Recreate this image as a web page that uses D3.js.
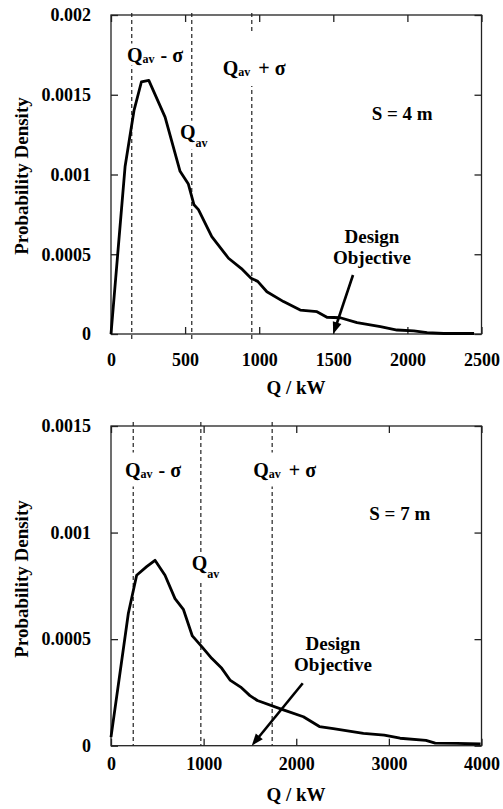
<!DOCTYPE html>
<html>
<head>
<meta charset="utf-8">
<script src="https://cdn.jsdelivr.net/npm/d3@7"></script>
<style>
  body { margin: 0; background: #fff; }
  svg { display: block; }
  svg text { font-family: "Liberation Serif", "DejaVu Serif", serif !important; font-weight: bold; }
</style>
</head>
<body>
<svg width="503" height="809"></svg>
<script>
// S = 4 m
const topQ = [0, 95, 155, 205, 255, 365, 466, 522, 560, 590, 680, 793, 880, 945, 990, 1052, 1164, 1277, 1390, 1457, 1547, 1660, 1818, 1930, 2043, 2133, 2245, 2450];
const topDensity = [0, 0.00105, 0.0014, 0.00158, 0.00159, 0.00136, 0.00102, 0.00094, 0.00081, 0.00078, 0.00061, 0.000475, 0.00041, 0.00035, 0.00033, 0.000265, 0.000203, 0.00015, 0.00014, 0.000105, 0.000102, 0.000071, 0.000046, 0.000025, 0.000019, 0.000008, 0.000003, 0.000003];
const topXTicks = [0, 500, 1000, 1500, 2000, 2500];
const topYTicks = [0, 0.0005, 0.001, 0.0015, 0.002];
const topMarkers = [140, 545, 950];          // Qav - sigma, Qav, Qav + sigma
const topArrow = [[1633, 0.00037], [1500, 0]];

// S = 7 m
const botQ = [0, 187, 277, 385, 475, 583, 691, 781, 878, 980, 1087, 1196, 1285, 1400, 1500, 1580, 1861, 2077, 2250, 2400, 2725, 2950, 3121, 3400, 3500, 3734, 3990];
const botDensity = [0.00004, 0.00062, 0.0008, 0.00084, 0.00087, 0.0008, 0.00069, 0.00064, 0.000515, 0.000465, 0.00041, 0.000363, 0.000308, 0.000275, 0.000235, 0.000212, 0.000168, 0.000136, 0.00009, 0.00008, 0.000058, 0.00005, 0.000035, 0.000025, 0.000012, 0.000011, 0.000008];
const botXTicks = [0, 1000, 2000, 3000, 4000];
const botYTicks = [0, 0.0005, 0.001, 0.0015];
const botMarkers = [240, 970, 1740];
const botArrow = [[2070, 0.000293], [1519, 0]];

const svg = d3.select("svg");
const font = '"Liberation Serif", "DejaVu Serif", serif';
const ink = "#222";
const left = 111, right = 481.5;

function styleAxis(sel, labels) {
  sel.select(".domain").remove();
  sel.attr("font-family", null);
  sel.selectAll(".tick line").attr("stroke", ink).attr("stroke-width", 1.3);
  sel.selectAll(".tick text")
    .style("font-family", font).attr("font-weight", "bold")
    .attr("font-size", 18).attr("fill", "#000");
  if (!labels) sel.selectAll(".tick text").remove();
}

function qLabel(g, lx, ly, kind, padTop, padBot) {
  const t = g.append("text").attr("x", lx).attr("y", ly)
    .style("font-family", font).attr("font-weight", "bold").attr("font-size", 20);
  t.append("tspan").text("Q");
  if (kind === "mid") {
    t.append("tspan").attr("font-size", 12).attr("dy", 8).text("av");
  } else {
    t.append("tspan").attr("font-size", 12).attr("dy", 1).text("av");
    t.append("tspan").attr("dx", kind === "minus" ? 6 : 8).attr("dy", -1).text(kind === "minus" ? "-" : "+");
    t.append("tspan").attr("dx", 5).text("σ");
  }
  const b = t.node().getBBox();
  g.insert("rect", "text")
    .attr("x", b.x - 1).attr("y", b.y - padTop)
    .attr("width", b.width + 2).attr("height", b.height + padTop + padBot)
    .attr("fill", "#fff");
}

function drawPanel(p) {
  const x = d3.scaleLinear().domain([0, p.xMax]).range([left, right]);
  const y = d3.scaleLinear().domain([0, p.yMax]).range([p.bottom, p.top]);
  const g = svg.append("g");

  g.append("rect")
    .attr("x", left).attr("y", p.top)
    .attr("width", right - left).attr("height", p.bottom - p.top)
    .attr("fill", "none").attr("stroke", ink).attr("stroke-width", 1.3);

  g.append("g").attr("transform", `translate(${left},0)`)
    .call(d3.axisLeft(y).tickValues(p.yTicks).tickSize(-7).tickSizeOuter(0).tickPadding(20).tickFormat(d => String(d)))
    .call(s => styleAxis(s, true));
  g.append("g").attr("transform", `translate(${right},0)`)
    .call(d3.axisRight(y).tickValues(p.yTicks).tickSize(-7).tickSizeOuter(0))
    .call(s => styleAxis(s, false));
  g.append("g").attr("transform", `translate(0,${p.bottom})`)
    .call(d3.axisBottom(x).tickValues(p.xTicks).tickSize(-7).tickSizeOuter(0).tickPadding(p.xPad).tickFormat(d => String(d)))
    .call(s => styleAxis(s, true));
  g.append("g").attr("transform", `translate(0,${p.top})`)
    .call(d3.axisTop(x).tickValues(p.xTicks).tickSize(-7).tickSizeOuter(0))
    .call(s => styleAxis(s, false));

  // mean and +/- sigma
  g.selectAll(".marker").data(p.markers).join("line")
    .attr("x1", d => x(d)).attr("x2", d => x(d))
    .attr("y1", p.dashTop).attr("y2", p.dashBottom)
    .attr("stroke", ink).attr("stroke-width", 1.2).attr("stroke-dasharray", "4,3");

  p.labels.forEach(l => {
    const lg = g.append("g");
    qLabel(lg, l.x, l.y, l.kind, l.padTop, l.padBot);
  });

  const line = d3.line().x(d => x(d[0])).y(d => y(d[1]));
  g.append("path")
    .datum(p.q.map((q, i) => [q, p.density[i]]))
    .attr("d", line)
    .attr("fill", "none").attr("stroke", "#000")
    .attr("stroke-width", 2.8).attr("stroke-linejoin", "round");

  // Design objective arrow
  const x0 = x(p.arrow[0][0]), y0 = y(p.arrow[0][1]);
  const x1 = x(p.arrow[1][0]), y1 = y(p.arrow[1][1]);
  const ang = Math.atan2(y1 - y0, x1 - x0);
  const hl = 12, hw = 4.5;
  g.append("line")
    .attr("x1", x0).attr("y1", y0)
    .attr("x2", x1 - Math.cos(ang) * (hl - 2)).attr("y2", y1 - Math.sin(ang) * (hl - 2))
    .attr("stroke", "#000").attr("stroke-width", 2.6);
  const bx = x1 - Math.cos(ang) * hl, by = y1 - Math.sin(ang) * hl;
  g.append("path")
    .attr("d", `M${x1},${y1}L${bx - Math.sin(ang) * hw},${by + Math.cos(ang) * hw}L${bx + Math.sin(ang) * hw},${by - Math.cos(ang) * hw}Z`)
    .attr("fill", "#000");

  const txt = (tx, ty, s, anchor) => g.append("text")
    .attr("x", tx).attr("y", ty).attr("text-anchor", anchor || "start")
    .style("font-family", font).attr("font-weight", "bold").attr("font-size", 19)
    .attr("fill", "#000").text(s);

  txt(p.sx, p.sy, p.spacing);
  txt(p.dx, p.dy, "Design", "middle");
  txt(p.dx, p.dy + 21, "Objective", "middle");
  txt(296, p.titleY, "Q / kW", "middle");

  g.append("text")
    .attr("transform", `translate(28,${p.yTitle}) rotate(-90)`)
    .attr("text-anchor", "middle")
    .style("font-family", font).attr("font-weight", "bold").attr("font-size", 19)
    .text("Probability Density");
}

drawPanel({
  top: 15, bottom: 334, xMax: 2500, yMax: 0.002,
  xTicks: topXTicks, yTicks: topYTicks, xPad: 19,
  q: topQ, density: topDensity, markers: topMarkers, arrow: topArrow,
  dashTop: 13, dashBottom: 340,
  labels: [
    { x: 127, y: 61.5, kind: "minus", padTop: 0, padBot: 0 },
    { x: 180, y: 138.7, kind: "mid", padTop: 0, padBot: 0 },
    { x: 222.7, y: 75, kind: "plus", padTop: 24, padBot: 7 }
  ],
  spacing: "S = 4 m", sx: 371.7, sy: 120,
  dx: 372, dy: 243, titleY: 394, yTitle: 176
});

drawPanel({
  top: 426, bottom: 745.7, xMax: 4000, yMax: 0.0015,
  xTicks: botXTicks, yTicks: botYTicks, xPad: 11.5,
  q: botQ, density: botDensity, markers: botMarkers, arrow: botArrow,
  dashTop: 422, dashBottom: 745.7,
  labels: [
    { x: 125, y: 476.5, kind: "minus", padTop: 6, padBot: 6 },
    { x: 191.7, y: 570, kind: "mid", padTop: 0, padBot: 0 },
    { x: 253.3, y: 476.5, kind: "plus", padTop: 6, padBot: 6 }
  ],
  spacing: "S = 7 m", sx: 369.3, sy: 520,
  dx: 333, dy: 650, titleY: 801, yTitle: 579
});
</script>
</body>
</html>
